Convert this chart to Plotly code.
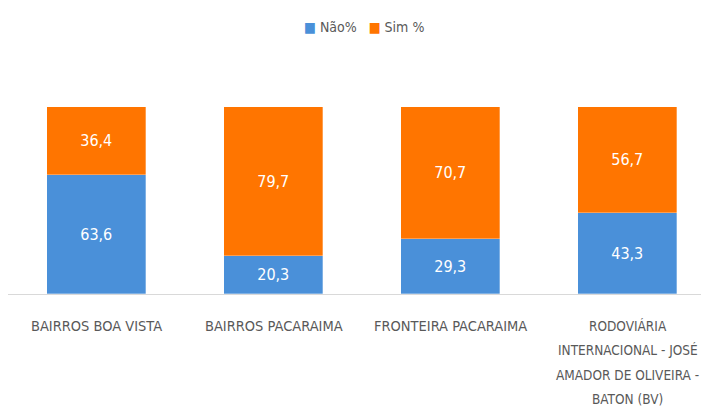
import plotly.graph_objects as go

categories = ["BAIRROS BOA VISTA", "BAIRROS PACARAIMA", "FRONTEIRA PACARAIMA",
              "RODOVIÁRIA INTERNACIONAL - JOSÉ AMADOR DE OLIVEIRA - BATON (BV)"]
label_lines = [["BAIRROS BOA VISTA"], ["BAIRROS PACARAIMA"], ["FRONTEIRA PACARAIMA"],
               ["RODOVIÁRIA", "INTERNACIONAL - JOSÉ", "AMADOR DE OLIVEIRA -", "BATON (BV)"]]
nao = [63.6, 20.3, 29.3, 43.3]
sim = [36.4, 79.7, 70.7, 56.7]
series_names = ["Não%", "Sim %"]
series_colors = ["#4A90D9", "#FF7500"]

FONT = "DejaVu Sans Condensed, Liberation Sans Narrow, sans-serif"

def fmt(v):
    return f"{v:.1f}".replace(".", ",")

fig = go.Figure()
for name, vals, color in zip(series_names, [nao, sim], series_colors):
    fig.add_trace(go.Bar(
        x=categories, y=vals, name=name,
        marker=dict(color=color, line=dict(color="rgba(255,255,255,0.6)", width=0.5)),
        width=0.56,
        text=[fmt(v) for v in vals], textposition="inside", insidetextanchor="middle",
        textfont=dict(color="white", size=16, family=FONT),
    ))

for i, lines in enumerate(label_lines):
    size = 14.5 if len(lines) == 1 else 13.5
    for j, line in enumerate(lines):
        fig.add_annotation(
            x=categories[i], xref="x", y=0, yref="paper", yanchor="middle",
            yshift=-(31.5 + j * 24.5), text=line, showarrow=False,
            font=dict(size=size, color="#595959", family=FONT),
        )

# legend drawn as a single text line with coloured square glyphs
legend_text = "   ".join(
    f"<span style='color:{c}'>■</span> {n}" for n, c in zip(series_names, series_colors)
)
fig.add_annotation(
    x=0.508, xref="paper", xanchor="center", y=1.427, yref="paper", yanchor="middle",
    text=legend_text, showarrow=False,
    font=dict(size=14, color="#595959", family=FONT),
)

fig.update_layout(
    width=701, height=409,
    barmode="stack", bargap=0,
    plot_bgcolor="white", paper_bgcolor="white",
    margin=dict(l=0, r=0, t=99, b=122.5),
    showlegend=False,
    xaxis=dict(range=[-0.5, 3.46], showticklabels=False, showline=True,
               linecolor="#d9d9d9", linewidth=1, showgrid=False, ticks=""),
    yaxis=dict(range=[0, 100], visible=False, showgrid=False),
)

fig.write_html("out.html")
